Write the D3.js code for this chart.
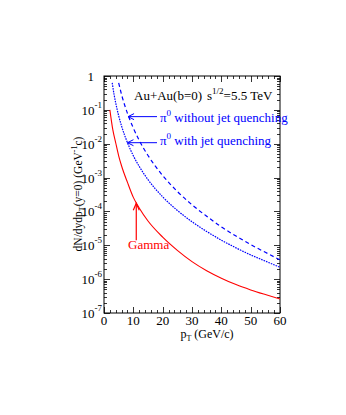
<!DOCTYPE html>
<html><head><meta charset="utf-8">
<script src="https://cdn.jsdelivr.net/npm/d3@7"></script>
<style>
body{margin:0;background:#fff}
text{font-family:"Liberation Serif","Times New Roman",serif}
</style>
</head><body>
<svg id="c" width="346" height="415"></svg>
<script>
// ---- data ----
const pT = [2,3,4,5,6,8,10,12,15,20,25,30,35,40,45,50,55,60];
const gamma = [1.0e-1,2.6e-2,1.05e-2,4.4e-3,2.2e-3,7.2e-4,2.6e-4,1.26e-4,5.2e-5,1.74e-5,7.1e-6,3.3e-6,1.78e-6,1.07e-6,6.9e-7,4.8e-7,3.5e-7,2.6e-7];
const pTnoQ = [5,6,8,10,12,15,20,25,30,35,40,45,50,55,60];
const pi0NoQuench = [0.63,0.28,7.9e-2,2.9e-2,1.26e-2,4.5e-3,1.15e-3,3.9e-4,1.57e-4,7.2e-5,3.5e-5,1.87e-5,1.05e-5,6.2e-6,3.7e-6];
const pTQ = [2.8,3,4,5,6,8,10,12,15,20,25,30,35,40,45,50,55,60];
const pi0Quench = [0.63,0.48,0.159,6.7e-2,3.3e-2,1.07e-2,4.4e-3,2.14e-3,8.7e-4,2.7e-4,1.07e-4,4.97e-5,2.56e-5,1.42e-5,8.4e-6,5.2e-6,3.4e-6,2.24e-6];
const xTicks = [0,10,20,30,40,50,60];
const yTicks = [1,1e-1,1e-2,1e-3,1e-4,1e-5,1e-6,1e-7];
const yTickExp = [0,-1,-2,-3,-4,-5,-6,-7];

const svg = d3.select("#c");
const L=104,R=280,T=76,B=313;
const x = d3.scaleLinear().domain([0,60]).range([L,R]);
const y = d3.scaleLog().domain([1e-7,1]).range([B,T]);

svg.append("defs").append("clipPath").attr("id","clip")
  .append("rect").attr("x",L).attr("y",T).attr("width",R-L).attr("height",B-T);

// frame
svg.append("rect").attr("x",L).attr("y",T).attr("width",R-L).attr("height",B-T)
  .attr("fill","none").attr("stroke","#000").attr("stroke-width",1);

// ticks
const tg = svg.append("g").attr("stroke","#000").attr("stroke-width",0.8);
for(let v=0; v<=60; v+=2){
  const major = v%10===0, len = major?6:3;
  const px = Math.round(x(v))+0.5;
  tg.append("line").attr("x1",px).attr("x2",px).attr("y1",B).attr("y2",B-len);
  tg.append("line").attr("x1",px).attr("x2",px).attr("y1",T).attr("y2",T+len);
}
for(let e=-7;e<=0;e++){
  for(let m=1;m<=9;m++){
    const v = m*Math.pow(10,e);
    if(v>1.0000001) break;
    const len = m===1?6:3;
    const py = Math.round(y(v))+0.5;
    tg.append("line").attr("x1",L).attr("x2",L+len).attr("y1",py).attr("y2",py);
    tg.append("line").attr("x1",R).attr("x2",R-len).attr("y1",py).attr("y2",py);
  }
}

// tick labels
svg.append("g").selectAll("text").data(xTicks).join("text")
  .attr("x",d=>x(d)).attr("y",B+12).attr("text-anchor","middle")
  .attr("font-size",13).text(d=>d);
const yl = svg.append("g");
yTicks.forEach((v,i)=>{
  const t = yl.append("text").attr("x", i===0?94:102).attr("y",y(v)+5)
    .attr("text-anchor","end").attr("font-size",13);
  if(i===0){ t.text("1"); }
  else {
    t.append("tspan").text("10");
    t.append("tspan").attr("dy",-7).attr("font-size",9).text(yTickExp[i]);
  }
});

// axis titles
const xt = svg.append("text").attr("x",207).attr("y",338).attr("text-anchor","middle").attr("font-size",12);
xt.append("tspan").text("p");
xt.append("tspan").attr("dy",3).attr("font-size",8).text("T");
xt.append("tspan").attr("dy",-3).text(" (GeV/c)");

const ytt = svg.append("text").attr("transform","translate(82,194) rotate(-90)")
  .attr("text-anchor","middle").attr("font-size",11.5);
ytt.append("tspan").text("dN/dydp");
ytt.append("tspan").attr("dy",3).attr("font-size",8).text("T");
ytt.append("tspan").attr("dy",-3).text("(y=0) (GeV");
ytt.append("tspan").attr("dy",-5).attr("font-size",8).text("-1");
ytt.append("tspan").attr("dy",5).text("c)");

// curves
const line = d3.line().x(d=>x(d[0])).y(d=>y(d[1])).curve(d3.curveMonotoneX);
const cg = svg.append("g").attr("clip-path","url(#clip)").attr("fill","none");
cg.append("path").attr("d",line(pT.map((p,i)=>[p,gamma[i]]))).attr("stroke","#ff0000").attr("stroke-width",1.1);
cg.append("path").attr("d",line(pTnoQ.map((p,i)=>[p,pi0NoQuench[i]]))).attr("stroke","#0000ff").attr("stroke-width",1.2).attr("stroke-dasharray","4,3");
cg.append("path").attr("d",line(pTQ.map((p,i)=>[p,pi0Quench[i]]))).attr("stroke","#0000ff").attr("stroke-width",1.2).attr("stroke-dasharray","1.6,1");

// annotations
const hdr = svg.append("text").attr("x",134).attr("y",100).attr("font-size",13);
hdr.append("tspan").text("Au+Au(b=0)");
hdr.append("tspan").attr("x",207).text("s");
hdr.append("tspan").attr("dy",-6).attr("font-size",9).text("1/2");
hdr.append("tspan").attr("dy",6).text("=5.5 TeV");

function arrowH(x1,x0,yy,color){
  svg.append("line").attr("x1",x1).attr("x2",x0).attr("y1",yy).attr("y2",yy).attr("stroke",color).attr("stroke-width",1);
  svg.append("path").attr("d",`M${x0+6},${yy-3}L${x0},${yy}L${x0+6},${yy+3}`).attr("fill","none").attr("stroke",color).attr("stroke-width",1);
}
function arrowV(xx,y1,y0,color){
  svg.append("line").attr("x1",xx).attr("x2",xx).attr("y1",y1).attr("y2",y0).attr("stroke",color).attr("stroke-width",1.2);
  svg.append("path").attr("d",`M${xx-3},${y0+7}L${xx},${y0}L${xx+3},${y0+7}`).attr("fill","none").attr("stroke",color).attr("stroke-width",1.2);
}
arrowH(157, x(8.2), y(Math.pow(10,-1.2)), "#0000ff");
arrowH(157, x(8.0), y(Math.pow(10,-1.97)), "#0000ff");
arrowV(x(11), y(Math.pow(10,-4.85)), y(Math.pow(10,-3.76)), "#ff0000");

function piLabel(yy,txt){
  const t = svg.append("text").attr("x",160).attr("y",yy).attr("font-size",13).attr("fill","#0000ff");
  t.append("tspan").text("π");
  t.append("tspan").attr("dy",-6).attr("font-size",9).text("0");
  t.append("tspan").attr("dy",6).text(" "+txt);
}
piLabel(122,"without jet quenching");
piLabel(145,"with jet quenching");
svg.append("text").attr("x",128).attr("y",249).attr("font-size",13).attr("fill","#ff0000").text("Gamma");
</script>
</body></html>
